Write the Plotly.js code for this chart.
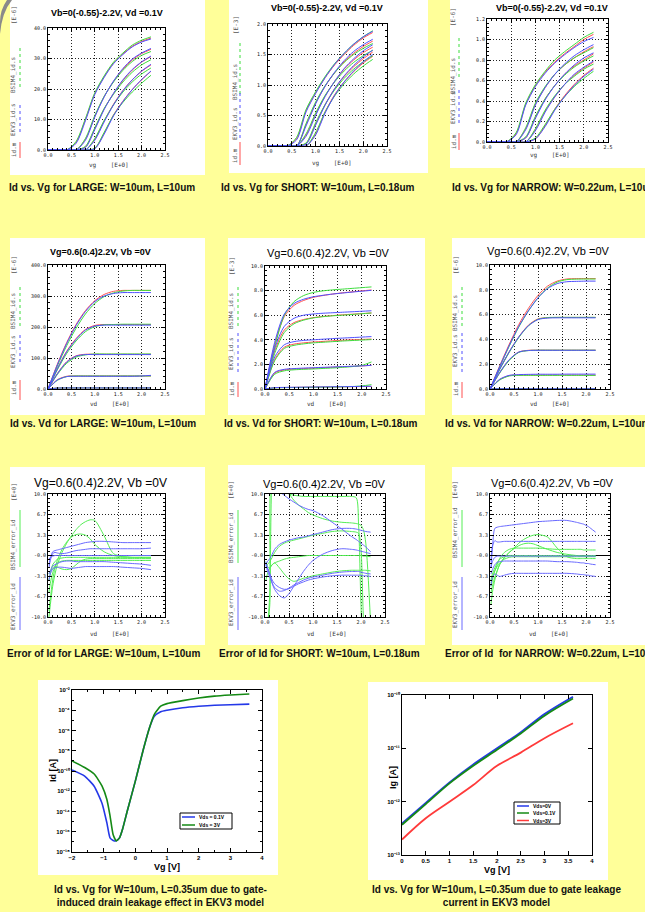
<!DOCTYPE html>
<html><head><meta charset="utf-8">
<script src="https://cdn.plot.ly/plotly-3.0.1.min.js"></script>
<style>html,body{margin:0;padding:0;background:#ffff99;}#chart{width:645px;height:912px;}</style>
</head><body><div id="chart"></div>
<script>
// ---------------- DATA ----------------
const X_SWEEP = [0,0.2,0.4,0.6,0.8,1.0,1.2,1.4,1.6,1.8,2.0,2.2];
const XE_LARGE = [0.02,0.05,0.1,0.15,0.2,0.3,0.4,0.5,0.6,0.7,0.8,0.9,1.0,1.2,1.4,1.6,1.8,2.0,2.2];
const XE = [0.02,0.05,0.1,0.15,0.2,0.3,0.4,0.5,0.6,0.7,0.8,0.9,1.0,1.2,1.4,1.6,1.8,1.9,1.95,2.0,2.05,2.1,2.2];

// Id vs Vg LARGE [E-6]
const large_idvg_meas = [
 [0,0,0,2.5,10,18.5,24,28.5,31.5,34,35.6,36.7],
 [0,0,0,0,3.5,11,17.5,22.5,26.5,29.5,31.6,33.0],
 [0,0,0,0,1,7,13.5,18.5,22.8,26.2,28.8,30.6],
 [0,0,0,0,0,3.5,9.5,15,19.5,23,25.8,27.9],
 [0,0,0,0,0,0.5,5.5,11.5,16,19.8,23,25.8]];
const large_idvg_ekv = [
 [0,0,0,2.2,9.6,18.2,23.8,28.3,31.3,33.8,35.4,36.4],
 [0,0,0,0,3.2,10.8,17.4,22.6,26.7,29.8,31.8,33.3],
 [0,0,0,0,0.8,6.7,13.3,18.6,23,26.4,28.9,30.8],
 [0,0,0,0,0,3.2,9.2,14.8,19.4,23,25.9,28.1],
 [0,0,0,0,0,0.4,5.2,11.2,15.9,19.8,23.1,25.9]];
const large_idvg_bsim = [
 [0,0,0,2.8,10.3,18.8,24.3,28.8,31.8,34.4,36.0,37.1],
 [0,0,0,0,3.8,11.3,17.6,22.3,26.1,29.0,31.0,32.3],
 [0,0,0,0,1.2,7.3,13.6,18.3,22.3,25.5,27.9,29.6],
 [0,0,0,0,0,3.8,9.7,14.8,19.0,22.3,24.9,26.9],
 [0,0,0,0,0,0.6,5.8,11.4,15.6,19.0,21.9,24.5]];

// Id vs Vg SHORT [E-3]
const short_idvg_meas = [
 [0,0,0,0.12,0.58,0.87,1.12,1.33,1.5,1.65,1.77,1.86],
 [0,0,0,0,0.35,0.7,0.98,1.2,1.38,1.52,1.63,1.72],
 [0,0,0,0,0.18,0.52,0.82,1.06,1.26,1.41,1.53,1.62],
 [0,0,0,0,0.04,0.36,0.68,0.94,1.14,1.3,1.43,1.54],
 [0,0,0,0,0,0.2,0.56,0.84,1.05,1.22,1.36,1.47]];
const short_idvg_ekv = [
 [0,0,0,0.1,0.56,0.86,1.12,1.34,1.52,1.67,1.79,1.88],
 [0,0,0,0,0.33,0.69,0.98,1.21,1.4,1.55,1.66,1.75],
 [0,0,0,0,0.16,0.5,0.81,1.06,1.27,1.43,1.56,1.66],
 [0,0,0,0,0.03,0.34,0.67,0.94,1.15,1.32,1.46,1.57],
 [0,0,0,0,0,0.18,0.54,0.83,1.05,1.23,1.38,1.5]];
const short_idvg_bsim = [
 [0,0,0,0.14,0.6,0.89,1.14,1.35,1.52,1.67,1.79,1.89],
 [0,0,0,0,0.37,0.72,0.99,1.2,1.37,1.5,1.6,1.68],
 [0,0,0,0,0.2,0.54,0.83,1.05,1.23,1.37,1.48,1.57],
 [0,0,0,0,0.05,0.38,0.68,0.92,1.11,1.26,1.38,1.48],
 [0,0,0,0,0,0.22,0.56,0.82,1.02,1.18,1.31,1.42]];

// Id vs Vg NARROW [E-6]
const narrow_idvg_meas = [
 [0,0,0,0.08,0.37,0.55,0.68,0.78,0.86,0.93,1.0,1.05],
 [0,0,0,0,0.13,0.37,0.53,0.66,0.75,0.82,0.88,0.93],
 [0,0,0,0,0.04,0.24,0.42,0.55,0.66,0.74,0.8,0.86],
 [0,0,0,0,0,0.12,0.3,0.44,0.56,0.65,0.72,0.78],
 [0,0,0,0,0,0.03,0.16,0.32,0.45,0.56,0.65,0.72]];
const narrow_idvg_ekv = [
 [0,0,0,0.07,0.36,0.54,0.67,0.77,0.85,0.92,0.98,1.02],
 [0,0,0,0,0.12,0.36,0.53,0.66,0.76,0.84,0.9,0.95],
 [0,0,0,0,0.04,0.23,0.41,0.55,0.66,0.75,0.82,0.87],
 [0,0,0,0,0,0.11,0.29,0.44,0.56,0.66,0.73,0.79],
 [0,0,0,0,0,0.03,0.15,0.31,0.44,0.55,0.64,0.71]];
const narrow_idvg_bsim = [
 [0,0,0,0.09,0.38,0.56,0.69,0.8,0.88,0.95,1.02,1.07],
 [0,0,0,0,0.14,0.38,0.54,0.66,0.75,0.82,0.87,0.92],
 [0,0,0,0,0.05,0.25,0.42,0.55,0.65,0.73,0.79,0.84],
 [0,0,0,0,0,0.13,0.31,0.45,0.56,0.64,0.71,0.76],
 [0,0,0,0,0,0.04,0.17,0.32,0.44,0.54,0.62,0.69]];

// Id vs Vd LARGE [E-6]
const large_idvd_meas = [
 [0,3,3.5,3.5,3.5,3.5,3.5,3.5,3.5,3.5,3.5,3.5],
 [0,30,41,42,42,42,42,42,42,42,42,42],
 [0,50,88,107,112,112,112,112,112,112,112,112],
 [0,66,122,163,192,205,208,208,208,208,208,208],
 [0,80,150,208,253,285,305,315,318,318,318,318]];
const large_idvd_ekv = [
 [0,3,3.5,3.5,3.5,3.5,3.5,3.5,3.5,3.5,3.5,3.5],
 [0,29,40,41,41,41,41,41,41,41,42,44],
 [0,49,87,106,111,111,111,111,111,111,111,111],
 [0,65,120,160,190,203,206,206,206,206,206,206],
 [0,78,147,205,250,282,300,308,311,311,311,311]];
const large_idvd_bsim = [
 [0,3,3.5,3.5,3.5,3.5,3.5,3.5,3.5,3.5,3.5,3.5],
 [0,28,40,42,42,42,42,42,42,42,42,42],
 [0,47,83,103,110,113,113,113,113,113,113,113],
 [0,62,115,155,185,201,207,208,209,209,209,209],
 [0,74,140,196,242,276,298,310,316,318,318,318]];

// Id vs Vd SHORT [E-3]
const short_idvd_meas = [
 [0,0.1,0.12,0.13,0.14,0.15,0.16,0.17,0.18,0.19,0.2,0.21],
 [0,1.3,1.55,1.62,1.66,1.7,1.73,1.77,1.8,1.84,1.88,1.93],
 [0,2.4,3.4,3.65,3.75,3.82,3.87,3.92,3.96,4.0,4.03,4.06],
 [0,3.1,4.8,5.4,5.65,5.8,5.9,5.97,6.03,6.08,6.13,6.18],
 [0,3.6,5.9,6.8,7.2,7.45,7.6,7.72,7.82,7.9,7.98,8.05]];
const short_idvd_ekv = [
 [0,0.11,0.13,0.14,0.15,0.16,0.17,0.18,0.19,0.2,0.21,0.22],
 [0,1.35,1.6,1.66,1.7,1.73,1.76,1.79,1.82,1.85,1.88,1.92],
 [0,2.6,3.6,3.85,3.95,4.0,4.05,4.1,4.14,4.18,4.22,4.26],
 [0,3.3,5.1,5.75,6.0,6.1,6.16,6.2,6.24,6.28,6.32,6.36],
 [0,3.8,6.1,6.95,7.3,7.5,7.62,7.72,7.8,7.88,7.95,8.02]];
const short_idvd_bsim = [
 [0,0.09,0.11,0.12,0.13,0.14,0.15,0.16,0.18,0.2,0.25,0.35],
 [0,1.2,1.48,1.56,1.6,1.63,1.67,1.71,1.76,1.82,1.92,2.2],
 [0,2.3,3.3,3.55,3.67,3.75,3.8,3.85,3.9,3.94,3.98,4.02],
 [0,2.9,4.6,5.3,5.6,5.78,5.88,5.95,6.0,6.06,6.12,6.18],
 [0,3.4,6.0,7.1,7.6,7.85,7.98,8.06,8.12,8.18,8.24,8.3]];

// Id vs Vd NARROW [E-6]
const narrow_idvd_meas = [
 [0,0.02,0.02,0.02,0.02,0.02,0.02,0.02,0.02,0.02,0.02,0.02],
 [0,0.75,1.08,1.12,1.12,1.12,1.12,1.12,1.12,1.12,1.12,1.12],
 [0,1.3,2.35,2.98,3.12,3.13,3.13,3.13,3.13,3.13,3.13,3.13],
 [0,1.6,3.0,4.2,5.15,5.65,5.75,5.77,5.77,5.77,5.77,5.77],
 [0,1.85,3.6,5.2,6.5,7.55,8.3,8.7,8.87,8.9,8.9,8.9]];
const narrow_idvd_ekv = [
 [0,0.02,0.02,0.02,0.02,0.02,0.02,0.02,0.02,0.02,0.02,0.02],
 [0,0.78,1.1,1.16,1.18,1.19,1.19,1.19,1.2,1.2,1.2,1.2],
 [0,1.32,2.37,2.98,3.1,3.12,3.12,3.12,3.12,3.12,3.12,3.12],
 [0,1.6,3.0,4.2,5.1,5.6,5.72,5.74,5.74,5.74,5.74,5.74],
 [0,1.8,3.5,5.05,6.3,7.35,8.1,8.5,8.65,8.68,8.7,8.7]];
const narrow_idvd_bsim = [
 [0,0.02,0.02,0.02,0.02,0.02,0.02,0.02,0.02,0.02,0.02,0.02],
 [0,0.72,1.05,1.1,1.1,1.1,1.1,1.1,1.1,1.1,1.1,1.1],
 [0,1.28,2.3,2.95,3.1,3.13,3.13,3.13,3.13,3.13,3.13,3.13],
 [0,1.55,2.95,4.15,5.1,5.62,5.76,5.78,5.78,5.78,5.78,5.78],
 [0,1.75,3.45,5.0,6.3,7.35,8.15,8.62,8.82,8.86,8.87,8.87]];

// Error of Id LARGE [%]
const large_err_ekv = [
 [-1.5,-0.5,0.6,0.8,0.9,1.1,1.3,1.5,1.7,1.9,2.1,2.2,2.3,2.3,2.2,2.1,2.1,2.1,2.1],
 [-2,-0.8,0.3,0.5,0.4,0.3,0.4,0.6,0.8,0.9,1.0,1.1,1.1,1.1,1.1,1.1,1.1,1.1,1.2],
 [-0.6,-0.3,-0.1,0,0,0,0,0,0,0,0,0,0,0,0,0,0,0,0],
 [-3,-2.5,-1.7,-1.5,-1.3,-1.0,-0.9,-0.9,-1.0,-1.0,-1.0,-1.0,-1.0,-1.0,-1.1,-1.2,-1.3,-1.4,-1.6],
 [-4,-3,-2.2,-2.0,-1.9,-1.9,-2.0,-2.1,-2.0,-1.9,-1.8,-1.8,-1.8,-1.8,-1.8,-1.9,-2.0,-2.1,-2.3]];
const large_err_bsim = [
 [-10,-8,-5,-3,-1.5,0.5,2.0,3.2,4.2,5.0,5.5,5.8,5.7,3.2,0.3,-0.1,0,0,0],
 [-9,-7,-4,-2,-0.8,1.0,2.2,3.0,3.4,3.5,3.3,2.7,1.8,0.6,0.0,-0.2,-0.3,-0.3,-0.3],
 [-6,-4.5,-2.8,-1.8,-1.2,-0.9,-0.8,-0.8,-0.8,-0.8,-0.8,-0.8,-0.8,-0.8,-0.8,-0.8,-0.8,-0.8,-0.8],
 [-3,-2.5,-2,-1.8,-1.9,-2.2,-2.3,-2.1,-1.5,-0.9,-0.6,-0.5,-0.5,-0.5,-0.5,-0.5,-0.5,-0.5,-0.5],
 [-4,-3,-1.5,-1,-0.6,-0.4,-0.3,-0.3,-0.3,-0.3,-0.3,-0.3,-0.3,-0.3,-0.3,-0.3,-0.3,-0.3,-0.3]];

// Error of Id SHORT [%]
const short_err_ekv = [
 [15,15,15,15,15,10.5,9.8,9.2,8.7,8.2,7.8,7.5,7.3,6.5,5.4,4.3,3.1,2.6,2.3,2.0,1.7,1.4,0.6],
 [-1.5,-1,-0.5,0.2,1.0,1.8,2.2,2.5,2.7,2.9,3.0,3.2,3.4,3.8,4.2,4.4,4.4,4.3,4.2,4.1,4.0,3.9,3.8],
 [-1.5,-2,-3,-4.5,-5.5,-6.5,-6.9,-6.2,-5,-3.8,-2.6,-1.6,-0.8,0.2,0.8,1.1,1.0,0.9,0.8,0.7,0.6,0.5,0.3],
 [-1.5,-2.5,-3.5,-4.5,-5.2,-5.8,-5.7,-5.3,-4.8,-4.4,-4.0,-3.7,-3.5,-3.2,-2.9,-2.7,-2.6,-2.6,-2.6,-2.7,-2.8,-2.9,-3.0],
 [-1,-2,-3,-4,-4.6,-5.2,-5.5,-5.4,-5.0,-4.6,-4.3,-4.0,-3.8,-3.5,-3.3,-3.2,-3.2,-3.2,-3.2,-3.2,-3.3,-3.3,-3.4]];
const short_err_bsim = [
 [-15,-12,-8,14,14,13,10.5,10.0,9.8,9.7,9.6,9.6,9.6,9.6,9.6,9.6,9.6,9.4,5,-8,-15,-15,-15],
 [-14,-12,-6,13,15,15,14,10.2,9.0,8.2,7.6,7.0,6.6,6.0,5.6,5.4,5.3,5.2,5.1,4.9,4.2,2.0,-11],
 [-2,-1.5,-1,-0.3,0.5,1.5,2.0,2.3,2.5,2.7,2.9,3.1,3.3,3.6,3.9,4.0,3.9,3.8,3.6,1.0,-10,-15,-15],
 [-4,-3,-2,-1.5,-1.2,-0.9,-0.6,-0.4,-0.3,-0.2,-0.1,0,0,0,0,0,0,0,0,0,-0.1,-0.1,-0.2],
 [-1,-1.8,-2,-1.5,-1.2,-2.0,-3.0,-3.8,-4.2,-4.0,-3.7,-3.5,-3.3,-3.0,-2.7,-2.5,-2.4,-2.4,-2.4,-2.4,-2.4,-2.4,-2.5]];

// Error of Id NARROW [%]
const narrow_err_ekv = [
 [-2,1,4.4,4.6,4.7,4.8,4.9,5.0,5.1,5.2,5.3,5.4,5.5,5.6,5.7,5.7,5.4,5.2,5.1,4.9,4.7,4.4,3.8],
 [-1,1.5,2.4,2.2,2.2,2.3,2.3,2.3,2.3,2.3,2.3,2.3,2.3,2.3,2.3,2.3,2.3,2.3,2.3,2.3,2.3,2.3,2.3],
 [-2,-1,-0.3,-0.1,-0.1,-0.1,-0.1,-0.1,-0.1,-0.1,-0.1,-0.1,-0.1,-0.1,-0.1,-0.1,-0.1,-0.1,-0.1,-0.1,-0.1,-0.1,-0.1],
 [-3,-2.3,-1.5,-1.1,-1.0,-0.9,-0.9,-0.9,-0.9,-0.9,-0.9,-0.9,-0.9,-0.9,-1.0,-1.0,-1.1,-1.2,-1.2,-1.3,-1.3,-1.4,-1.5],
 [-5,-3.5,-3.0,-3.2,-3.4,-3.2,-3.0,-2.9,-2.9,-2.9,-2.9,-2.9,-2.9,-2.9,-2.9,-2.9,-3.0,-3.1,-3.1,-3.2,-3.2,-3.3,-3.4]];
const narrow_err_bsim = [
 [-8,-6,-4,-2.5,-1.5,-0.3,0.5,1.2,2.0,2.6,3.0,3.3,3.4,3.0,1.2,-0.2,-0.5,-0.5,-0.5,-0.5,-0.5,-0.5,-0.5],
 [-6,-5,-3.5,-2.5,-1.5,-0.4,0.5,1.1,1.6,1.9,2.0,1.9,1.6,1.0,0.5,0.2,0.0,-0.1,-0.1,-0.1,-0.1,-0.1,-0.1],
 [-5,-4,-2.5,-1.5,-0.5,0.5,1.0,1.2,1.2,1.2,1.2,1.2,1.2,1.1,1.0,1.0,1.0,1.0,0.9,0.9,0.9,0.9,0.9],
 [-4,-3,-2,-1.2,-0.6,-0.2,0,0,0,0,0,0,0,0,0,0,0,0,0,0,0,0,0],
 [-4.5,-3.5,-2.5,-1.8,-1.2,-0.6,-0.3,-0.2,-0.2,-0.2,-0.2,-0.2,-0.2,-0.2,-0.2,-0.2,-0.2,-0.2,-0.2,-0.2,-0.2,-0.2,-0.2]];

// GIDL: Id vs Vg, W=10um L=0.35um
const gidl_vg = [-2,-1.6,-1.3,-1.05,-0.9,-0.8,-0.7,-0.6,-0.5,-0.4,-0.25,0,0.25,0.45,0.6,0.8,1.0,1.5,2.0,2.5,3.0,3.6];
const gidl_vds01 = [1.26e-10,3.16e-11,3.16e-12,6.3e-14,7.9e-16,2.5e-17,1.4e-17,1.26e-17,2.5e-17,2.0e-16,1.26e-14,1e-11,1.26e-8,2.0e-6,2.5e-5,7.1e-5,1.0e-4,1.78e-4,2.5e-4,3.16e-4,3.5e-4,4.0e-4];
const gidl_vds3 = [1e-9,2.2e-10,5e-11,3.2e-12,1.6e-13,4e-15,5e-17,1.26e-17,2.5e-17,2e-16,1.26e-14,1e-11,1.26e-8,2e-6,4e-5,2.5e-4,4.5e-4,8.9e-4,1.6e-3,2.5e-3,3.2e-3,4e-3];
const gidl_ticktext = ['10⁻¹⁸','10⁻¹⁶','10⁻¹⁴','10⁻¹²','10⁻¹⁰','10⁻⁸','10⁻⁶','10⁻⁴','10⁻²'];

// Gate leakage: Ig vs Vg
const gate_vg = [0,0.5,1.0,1.5,2.0,2.5,3.0,3.6];
const gate_vds0 = [3.9e-13,9.5e-13,2.3e-12,5.0e-12,1.0e-11,2.0e-11,4.4e-11,9.3e-11];
const gate_vds01 = [3.7e-13,9.0e-13,2.2e-12,4.7e-12,9.4e-12,1.9e-11,4.1e-11,8.6e-11];
const gate_vds3 = [1.95e-13,4.9e-13,1.0e-12,2.05e-12,4.7e-12,8.3e-12,1.55e-11,2.95e-11];
const gate_ticktext = ['10⁻¹³','10⁻¹²','10⁻¹¹','10⁻¹⁰'];

// ---------------- LAYOUT HELPERS ----------------
const W=645,H=912;
const fx=v=>v/W, fy=v=>1-v/H;
const MONO='DejaVu Sans Mono, Liberation Mono, monospace';
const SANS='Liberation Sans, Arial, sans-serif';
const traces=[];
const layout={width:W,height:H,margin:{l:0,r:0,t:0,b:0},paper_bgcolor:'#ffff99',plot_bgcolor:'#ffffff',
  showlegend:false,shapes:[],annotations:[],font:{family:SANS}};
const sfx=n=>n===1?'':String(n);

function ann(text,x,y,o){layout.annotations.push(Object.assign({text:text,x:fx(x),y:fy(y),xref:'paper',yref:'paper',showarrow:false,xanchor:'center',yanchor:'middle'},o||{}));}
function rect(x0,y0,x1,y1,o){layout.shapes.push(Object.assign({type:'rect',xref:'paper',yref:'paper',x0:fx(x0),x1:fx(x1),y0:fy(y1),y1:fy(y0),fillcolor:'#fff',line:{width:0},layer:'below'},o||{}));}
function vline(x,y0,y1,color,dash){layout.shapes.push({type:'line',xref:'paper',yref:'paper',x0:fx(x),x1:fx(x),y0:fy(y0),y1:fy(y1),line:{color:color,width:1,dash:dash||'solid'}});}
function hline(x0,x1,y,color,w){layout.shapes.push({type:'line',xref:'paper',yref:'paper',x0:fx(x0),x1:fx(x1),y0:fy(y),y1:fy(y),line:{color:color,width:w||1}});}

function smallPanel(n,box,yr,ydt,yminor,err){
  const [x0,y0,x1,y1]=box;
  const common={showline:true,linecolor:'#000',linewidth:1,mirror:'allticks',ticks:'inside',ticklen:4,tickwidth:1,tickcolor:'#000',
    showgrid:true,gridcolor:'#222',griddash:'1px,2px',gridwidth:1,zeroline:false,tickfont:{family:MONO,size:5,color:'#111'},fixedrange:true};
  layout['xaxis'+sfx(n)]=Object.assign({},common,{domain:[fx(x0),fx(x1)],anchor:'y'+sfx(n),range:[0,2.5],tickmode:'linear',tick0:0,dtick:0.5,tickformat:'.1f',
    minor:{tickmode:'linear',tick0:0,dtick:0.1,ticks:'inside',ticklen:2,tickcolor:'#000',showgrid:false}});
  const ya=Object.assign({},common,{domain:[fy(y1),fy(y0)],anchor:'x'+sfx(n),range:yr,
    minor:{tickmode:'linear',tick0:0,dtick:yminor,ticks:'inside',ticklen:2,tickcolor:'#000',showgrid:false}});
  if(err){Object.assign(ya,{tickmode:'array',tickvals:[-10,-6.667,-3.333,0,3.333,6.667,10],ticktext:['-10.0','-6.7','-3.3','-0.0','3.3','6.7','10.0'],
    zeroline:true,zerolinecolor:'#000',zerolinewidth:1.4});}
  else Object.assign(ya,{tickmode:'linear',tick0:0,dtick:ydt,tickformat:'.1f'});
  layout['yaxis'+sfx(n)]=ya;
}
function addCurves(n,x,sets,color,w){
  sets.forEach(y=>traces.push({type:'scatter',mode:'lines',x:x,y:y,xaxis:'x'+sfx(n),yaxis:'y'+sfx(n),
    line:{color:color,width:w||1,shape:'spline',smoothing:0.8},hoverinfo:'skip',showlegend:false,cliponaxis:true}));
}
function leftLabels(lx,lnx,eText,eY,items){
  ann(eText,lx,eY,{textangle:-90,font:{family:MONO,size:6,color:'#555'}});
  items.forEach(it=>{ann(it[0],lx,it[1],{textangle:-90,font:{family:MONO,size:6,color:'#555'}});vline(lnx,it[4],it[5],it[2],it[3]);});
}

const RED='#ff5050', BLUE='#5050ff', GREEN='#3ddd3d', EBLUE='#6a6aff', EGREEN='#55ee55';

// white panels
rect(10,0,205,175); rect(229,0,428,173); rect(450,0,645,168);
rect(10,238,205,415); rect(228,238,425,415); rect(452,238,645,415);
rect(10,467,205,645); rect(228,465,425,645); rect(452,467,645,645);
rect(38,680,278,875); rect(368,682,608,880);
// grey swoosh top-left
layout.shapes.push({type:'path',xref:'paper',yref:'paper',fillcolor:'#8a8a8a',line:{width:0},layer:'above',
  path:`M ${fx(0)} ${fy(34)} Q ${fx(2)} ${fy(12)} ${fx(12)} ${fy(0)} L ${fx(7)} ${fy(0)} Q ${fx(0)} ${fy(10)} ${fx(0)} ${fy(22)} Z`});

// ---- Row 1: Id vs Vg
smallPanel(1,[48,28,165,150],[0,40],10,2);
smallPanel(2,[268,24,387,146],[0,2],0.5,0.1);
smallPanel(3,[487,19,608,142],[0,1.2],0.2,0.04);
// ---- Row 2: Id vs Vd
smallPanel(4,[48,265,165,389],[0,400],100,20);
smallPanel(5,[265,266,386,389],[0,10],2,0.4);
smallPanel(6,[490,265,610,389],[0,10],2,0.4);
// ---- Row 3: error
smallPanel(7,[48,494,165,617],[-10,10],0,0.6667,true);
smallPanel(8,[265,494,385,617],[-10,10],0,0.6667,true);
smallPanel(9,[490,494,610,617],[-10,10],0,0.6667,true);

const sets=[
 [1,X_SWEEP,large_idvg_meas,large_idvg_bsim,large_idvg_ekv],
 [2,X_SWEEP,short_idvg_meas,short_idvg_bsim,short_idvg_ekv],
 [3,X_SWEEP,narrow_idvg_meas,narrow_idvg_bsim,narrow_idvg_ekv],
 [4,X_SWEEP,large_idvd_meas,large_idvd_bsim,large_idvd_ekv],
 [5,X_SWEEP,short_idvd_meas,short_idvd_bsim,short_idvd_ekv],
 [6,X_SWEEP,narrow_idvd_meas,narrow_idvd_bsim,narrow_idvd_ekv]];
sets.forEach(s=>{addCurves(s[0],s[1],s[2],RED);addCurves(s[0],s[1],s[3],GREEN);addCurves(s[0],s[1],s[4],BLUE);});
addCurves(7,XE_LARGE,large_err_bsim,EGREEN); addCurves(7,XE_LARGE,large_err_ekv,EBLUE);
addCurves(8,XE,short_err_bsim,EGREEN); addCurves(8,XE,short_err_ekv,EBLUE);
addCurves(9,XE,narrow_err_bsim,EGREEN); addCurves(9,XE,narrow_err_ekv,EBLUE);

// panel titles
const T1={family:SANS,size:9,color:'#000',weight:'bold'};
const T2={family:SANS,size:11,color:'#000'};
ann('Vb=0(-0.55)-2.2V, Vd =0.1V',107,13,{font:T1});
ann('Vb=0(-0.55)-2.2V, Vd =0.1V',327,8,{font:T1});
ann('Vb=0(-0.55)-2.2V, Vd =0.1V',552,8,{font:T1});
ann('Vg=0.6(0.4)2.2V, Vb =0V',100,252,{font:T1});
ann('Vg=0.6(0.4)2.2V, Vb =0V',328,253,{font:T2});
ann('Vg=0.6(0.4)2.2V, Vb =0V',548,251,{font:T2});
ann('Vg=0.6(0.4)2.2V, Vb =0V',100,483,{font:Object.assign({},T2,{size:12})});
ann('Vg=0.6(0.4)2.2V, Vb =0V',324,484,{font:T2});
ann('Vg=0.6(0.4)2.2V, Vb =0V',552,483,{font:T2});

// x axis labels of small panels
const XL={family:MONO,size:6,color:'#333'};
ann('vg    [E+0]',109,165,{font:XL}); ann('vg    [E+0]',332,163,{font:XL}); ann('vg    [E+0]',550,155,{font:XL});
ann('vd    [E+0]',110,403,{font:XL}); ann('vd    [E+0]',327,403,{font:XL}); ann('vd    [E+0]',550,403,{font:XL});
ann('vd    [E+0]',110,633,{font:XL}); ann('vd    [E+0]',327,633,{font:XL}); ann('vd    [E+0]',549,633,{font:XL});

// left side series labels
leftLabels(13,20,'[E-6]',15,[['BSIM4_id.s',75,GREEN,'dot',48,88],['EKV3_id.s',120,BLUE,'dot',105,133],['id.m',150,RED,'solid',142,158]]);
leftLabels(235,240,'[E-3]',25,[['BSIM4_id.s',82,GREEN,'dot',43,97],['EKV3_id.s',124,BLUE,'dot',93,138],['id.m',156,RED,'solid',142,165]]);
leftLabels(453,459,'[E-6]',17,[['BSIM4_id.s',76,GREEN,'dot',38,80],['EKV3_id.s',108,BLUE,'dot',90,125],['id.m',142,RED,'solid',133,150]]);
leftLabels(13,20,'[E-6]',265,[['BSIM4_id.s',311,GREEN,'dot',287,327],['EKV3_id.s',352,BLUE,'dot',335,363],['id.m',388,RED,'solid',380,400]]);
leftLabels(231,238,'[E-3]',266,[['BSIM4_id.s',311,GREEN,'dot',287,327],['EKV3_id.s',354,BLUE,'dot',333,373],['id.m',389,RED,'solid',382,397]]);
leftLabels(455,462,'[E-6]',265,[['BSIM4_id.s',313,GREEN,'dot',287,327],['EKV3_id.s',351,BLUE,'dot',333,373],['id.m',389,RED,'solid',382,398]]);
leftLabels(13,20,'[E+0]',492,[['BSIM4_error_id',545,EGREEN,'solid',510,567],['EKV3_error_id',607,EBLUE,'solid',577,630]]);
leftLabels(231,238,'[E+0]',490,[['BSIM4_error_id',538,EGREEN,'solid',510,563],['EKV3_error_id',603,EBLUE,'solid',577,630]]);
leftLabels(455,462,'[E+0]',490,[['BSIM4_error_id',533,EGREEN,'solid',510,567],['EKV3_error_id',605,EBLUE,'solid',577,630]]);

// captions
const CF={family:SANS,size:10,color:'#111',weight:'bold'};
ann('Id vs. Vg for LARGE: W=10um, L=10um',102,187,{font:CF});
ann('Id vs. Vg for SHORT: W=10um, L=0.18um',317,187,{font:CF});
ann('Id vs. Vg for NARROW: W=0.22um, L=10um',450,187,{font:CF,xanchor:'left'});
ann('Id vs. Vd for LARGE: W=10um, L=10um',103,423,{font:CF});
ann('Id vs. Vd for SHORT: W=10um, L=0.18um',320,423,{font:CF});
ann('Id vs. Vd for NARROW: W=0.22um, L=10um',443,423,{font:CF,xanchor:'left'});
ann('Error of Id for LARGE: W=10um, L=10um',103,653,{font:CF});
ann('Error of Id for SHORT: W=10um, L=0.18um',319,653,{font:CF});
ann('Error of Id  for NARROW: W=0.22um, L=10um',443,653,{font:CF,xanchor:'left'});
ann('Id vs. Vg for W=10um, L=0.35um due to gate-<br>induced drain leakage effect in EKV3 model',160,896,{font:CF});
ann('Id vs. Vg for W=10um, L=0.35um due to gate leakage<br>current in EKV3 model',497,896,{font:CF});

// ---- bottom-left: GIDL
const BT={family:SANS,size:6,color:'#000',weight:'bold'};
const bcommon={showline:true,linecolor:'#000',linewidth:1,mirror:'allticks',ticks:'inside',ticklen:4,tickcolor:'#000',showgrid:false,zeroline:false,tickfont:BT,fixedrange:true};
layout.xaxis10=Object.assign({},bcommon,{domain:[fx(72),fx(262)],anchor:'y10',range:[-2,4],tickmode:'linear',tick0:0,dtick:1,
  minor:{tickmode:'linear',tick0:0,dtick:0.5,ticks:'inside',ticklen:2,tickcolor:'#000'}});
const dec18=[];for(let e=-18;e<=-2;e+=2){dec18.push(Math.pow(10,e));}
const dec18m=[];for(let e=-17;e<=-3;e+=2){dec18m.push(Math.pow(10,e));}
layout.yaxis10=Object.assign({},bcommon,{domain:[fy(852),fy(690)],anchor:'x10',type:'log',range:[-18,-2],tickmode:'array',tickvals:dec18,ticktext:gidl_ticktext,
  minor:{tickmode:'array',tickvals:dec18m,ticks:'inside',ticklen:2,tickcolor:'#000'}});
traces.push({type:'scatter',mode:'lines',x:gidl_vg,y:gidl_vds01,xaxis:'x10',yaxis:'y10',line:{color:'#2438e8',width:1.6,shape:'spline',smoothing:0.5},hoverinfo:'skip'});
traces.push({type:'scatter',mode:'lines',x:gidl_vg,y:gidl_vds3,xaxis:'x10',yaxis:'y10',line:{color:'#158a15',width:1.6,shape:'spline',smoothing:0.5},hoverinfo:'skip'});
ann('Id [A]',53,771,{textangle:-90,font:{family:SANS,size:9,color:'#000',weight:'bold'}});
ann('Vg [V]',167,867,{font:{family:SANS,size:9,color:'#000',weight:'bold'}});
rect(180,813,232,829,{layer:'above',line:{color:'#000',width:1}});
hline(182,195,817,'#2438e8',1.5); hline(182,195,825,'#158a15',1.5);
ann('Vds = 0.1V',197,817,{xanchor:'left',font:{family:SANS,size:5,color:'#000',weight:'bold'}});
ann('Vds = 3V',197,825,{xanchor:'left',font:{family:SANS,size:5,color:'#000',weight:'bold'}});

// ---- bottom-right: gate leakage
layout.xaxis11=Object.assign({},bcommon,{domain:[fx(402),fx(592)],anchor:'y11',range:[0,4],tickmode:'linear',tick0:0,dtick:0.5});
const dec13=[];for(let e=-13;e<=-10;e++){dec13.push(Math.pow(10,e));}
layout.yaxis11=Object.assign({},bcommon,{domain:[fy(855),fy(695)],anchor:'x11',type:'log',range:[-13,-10],tickmode:'array',tickvals:dec13,ticktext:gate_ticktext});
traces.push({type:'scatter',mode:'lines',x:gate_vg,y:gate_vds0,xaxis:'x11',yaxis:'y11',line:{color:'#2438e8',width:1.8,shape:'spline'},hoverinfo:'skip'});
traces.push({type:'scatter',mode:'lines',x:gate_vg,y:gate_vds01,xaxis:'x11',yaxis:'y11',line:{color:'#158a15',width:1.8,shape:'spline'},hoverinfo:'skip'});
traces.push({type:'scatter',mode:'lines',x:gate_vg,y:gate_vds3,xaxis:'x11',yaxis:'y11',line:{color:'#ff3a3a',width:1.8,shape:'spline'},hoverinfo:'skip'});
ann('Ig [A]',393,777,{textangle:-90,font:{family:SANS,size:9,color:'#000',weight:'bold'}});
ann('Vg [V]',497,870,{font:{family:SANS,size:9,color:'#000',weight:'bold'}});
rect(514,802,560,824,{layer:'above',line:{color:'#000',width:1}});
hline(517,529,806,'#2438e8',1.5); hline(517,529,813,'#158a15',1.5); hline(517,529,820.5,'#ff3a3a',1.5);
ann('Vds=0V',531,806,{xanchor:'left',font:{family:SANS,size:5,color:'#000',weight:'bold'}});
ann('Vds=0.1V',531,813,{xanchor:'left',font:{family:SANS,size:5,color:'#000',weight:'bold'}});
ann('Vds=3V',531,820.5,{xanchor:'left',font:{family:SANS,size:5,color:'#000',weight:'bold'}});

Plotly.newPlot('chart',traces,layout,{staticPlot:true,displayModeBar:false});
</script></body></html>
